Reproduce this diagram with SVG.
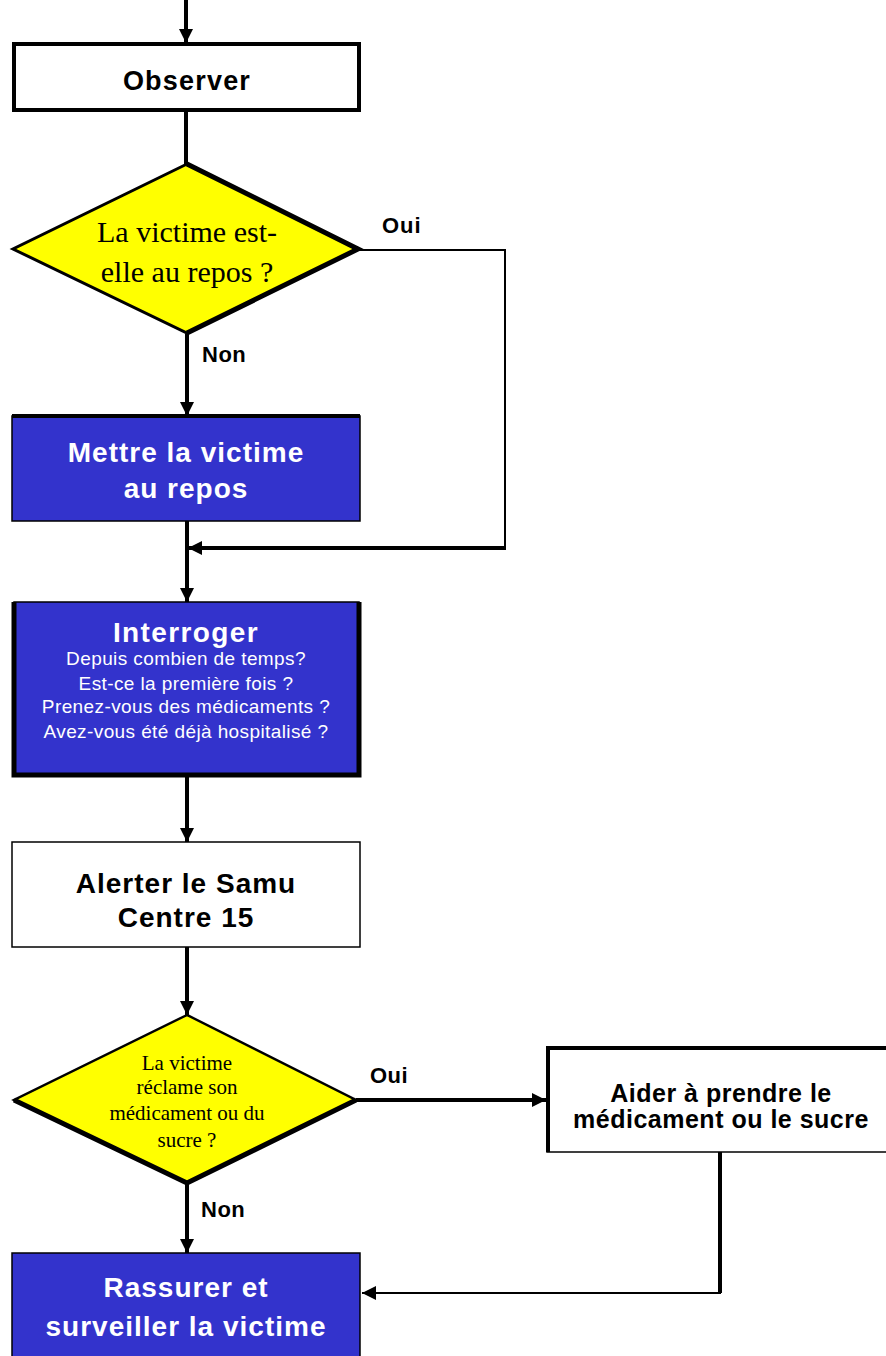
<svg xmlns="http://www.w3.org/2000/svg" width="886" height="1356" viewBox="0 0 886 1356">
<style>
.lbl{font-family:"Liberation Sans",Arial,sans-serif;font-weight:bold;text-anchor:middle}
.big{font-size:28px;letter-spacing:1px}
.wt{fill:#fff}
.bk{fill:#000}
.ser{font-family:"Liberation Serif","Times New Roman",serif;text-anchor:middle;fill:#000}
.sub{font-family:"Liberation Sans",Arial,sans-serif;font-size:19px;letter-spacing:0.4px;fill:#fff;text-anchor:middle}
.yn{font-family:"Liberation Sans",Arial,sans-serif;font-weight:bold;font-size:22px;fill:#000}
.c{fill:none;stroke:#000;stroke-width:4}
.ct{fill:none;stroke:#000;stroke-width:2}
</style>
<defs>
<marker id="ah" markerUnits="userSpaceOnUse" markerWidth="14" markerHeight="14" refX="14" refY="7" orient="auto">
<path d="M0,0 L14,7 L0,14 z" fill="#000"/>
</marker>
</defs>
<rect width="886" height="1356" fill="#fff"/>
<g id="connectors">
<path class="c" d="M186,0 V43" marker-end="url(#ah)"/>
<path class="c" d="M186,112 V165"/>
<path class="c" d="M187,334 V416" marker-end="url(#ah)"/>
<path class="ct" d="M359,250 H505 V548"/>
<path class="c" d="M506,548 H188" marker-end="url(#ah)"/>
<path class="c" d="M187,521 V602" marker-end="url(#ah)"/>
<path class="c" d="M187,777 V842" marker-end="url(#ah)"/>
<path class="c" d="M187,947 V1015" marker-end="url(#ah)"/>
<path class="c" d="M356,1100 H546" marker-end="url(#ah)"/>
<path class="c" d="M187,1184 V1253" marker-end="url(#ah)"/>
<path class="c" d="M720,1152 V1293"/>
<path class="ct" d="M721,1293 H362" marker-end="url(#ah)"/>
</g>
<g id="observer">
<rect x="14" y="44" width="345" height="66" fill="#fff" stroke="#000" stroke-width="4"/>
<text class="lbl bk" x="187" y="90" font-size="27" letter-spacing="1.2">Observer</text>
</g>
<g id="decision1">
<polygon points="187,164 13,249 187,333 358,249" fill="#ffff00" stroke="#000" stroke-width="3"/>
<polyline points="187,164 358,249 187,333" fill="none" stroke="#000" stroke-width="5"/>
<text class="ser" x="187" y="242" font-size="30">La victime est-</text>
<text class="ser" x="187" y="282" font-size="30">elle au repos ?</text>
<text class="yn" x="382" y="233" letter-spacing="1">Oui</text>
<text class="yn" x="202" y="362" letter-spacing="0.5">Non</text>
</g>
<g id="mettre">
<rect x="12" y="416" width="348" height="105" fill="#3333cc" stroke="#000" stroke-width="1.5"/>
<line x1="12" y1="416" x2="360" y2="416" stroke="#000" stroke-width="4"/>
<text class="lbl big wt" x="186" y="462">Mettre la victime</text>
<text class="lbl big wt" x="186" y="498">au repos</text>
</g>
<g id="interroger">
<rect x="14" y="602" width="345" height="173" fill="#3333cc" stroke="#000" stroke-width="1.5"/>
<path d="M14,602 V775 H359 V602" fill="none" stroke="#000" stroke-width="5"/>
<text class="lbl wt" x="186" y="642" font-size="28" letter-spacing="1.4">Interroger</text>
<text class="sub" x="186" y="665">Depuis combien de temps?</text>
<text class="sub" x="186" y="690">Est-ce la première fois ?</text>
<text class="sub" x="186" y="713">Prenez-vous des médicaments ?</text>
<text class="sub" x="186" y="738">Avez-vous été déjà hospitalisé ?</text>
</g>
<g id="alerter">
<rect x="12" y="842" width="348" height="105" fill="#fff" stroke="#000" stroke-width="1.5"/>
<text class="lbl big bk" x="186" y="893">Alerter le Samu</text>
<text class="lbl big bk" x="186" y="927">Centre 15</text>
</g>
<g id="decision2">
<polygon points="187,1015 14,1100 187,1183 356,1100" fill="#ffff00" stroke="#000" stroke-width="2.5"/>
<polyline points="14,1100 187,1183 356,1100" fill="none" stroke="#000" stroke-width="5"/>
<text class="ser" x="187" y="1070" font-size="21">La victime</text>
<text class="ser" x="187" y="1094" font-size="21">réclame son</text>
<text class="ser" x="187" y="1120" font-size="21">médicament ou du</text>
<text class="ser" x="187" y="1147" font-size="21">sucre ?</text>
<text class="yn" x="370" y="1083" letter-spacing="0.5">Oui</text>
<text class="yn" x="201" y="1217" letter-spacing="0.5">Non</text>
</g>
<g id="aider">
<rect x="547" y="1047" width="345" height="105" fill="#fff" stroke="#000" stroke-width="1.5"/>
<path d="M548,1152 V1048 H892" fill="none" stroke="#000" stroke-width="4"/>
<text class="lbl bk" x="721" y="1102" font-size="25" letter-spacing="0.5">Aider à prendre le</text>
<text class="lbl bk" x="721" y="1128" font-size="25" letter-spacing="0.5">médicament ou le sucre</text>
</g>
<g id="rassurer">
<rect x="12" y="1253" width="348" height="110" fill="#3333cc" stroke="#000" stroke-width="1.5"/>
<text class="lbl big wt" x="186" y="1297">Rassurer et</text>
<text class="lbl big wt" x="186" y="1336">surveiller la victime</text>
</g>
</svg>
